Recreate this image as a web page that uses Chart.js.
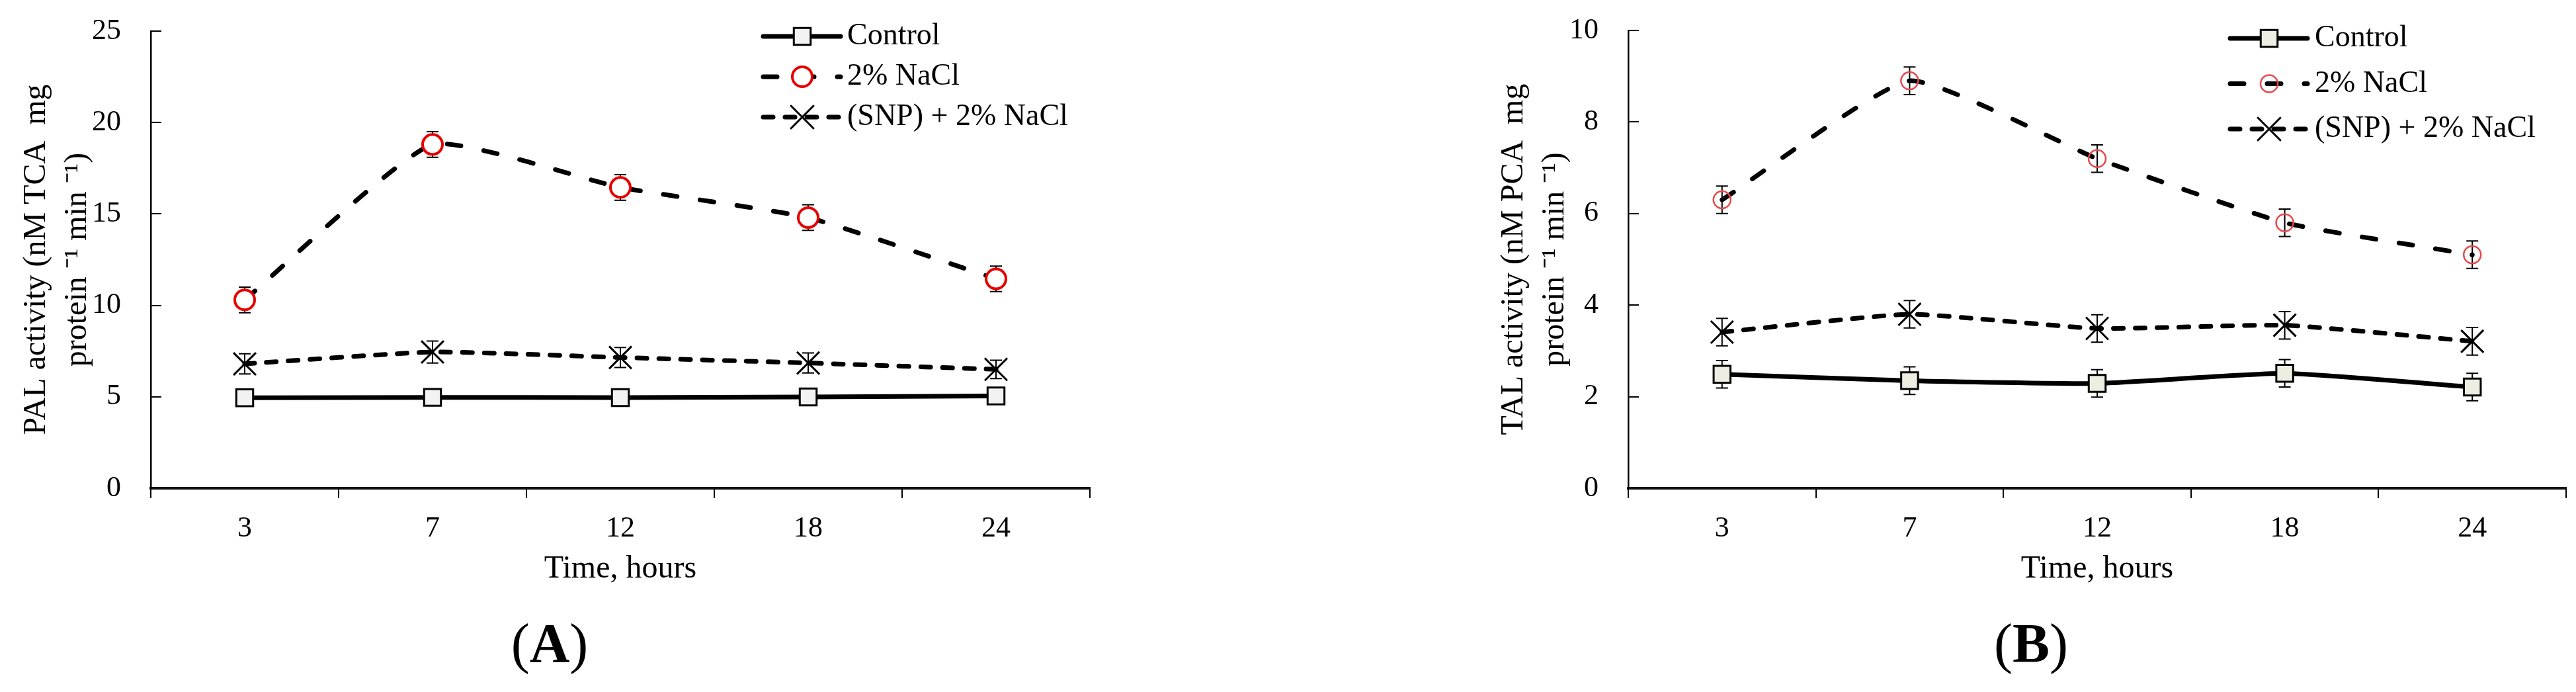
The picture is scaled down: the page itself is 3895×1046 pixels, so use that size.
<!DOCTYPE html>
<html>
<head>
<meta charset="utf-8">
<script src="https://cdn.jsdelivr.net/npm/chart.js@4.4.1/dist/chart.umd.min.js"></script>
<style>
body{margin:0;background:#fff;width:3895px;height:1046px;position:relative;overflow:hidden;font-family:"Liberation Serif",serif;}
canvas{position:absolute;top:0;}
#palChart{left:0;}
#talChart{left:2234px;}
.panel{position:absolute;top:931px;width:240px;text-align:center;font-size:84px;line-height:84px;color:#000;}
</style>
</head>
<body>
<canvas id="palChart" width="1700" height="940"></canvas>
<canvas id="talChart" width="1661" height="940"></canvas>
<div class="panel" style="left:711px">(<b>A</b>)</div>
<div class="panel" style="left:2951px">(<b>B</b>)</div>
<script>
//categories
var hours = ["3", "7", "12", "18", "24"];
var seriesNames = ["Control", "2% NaCl", "(SNP) + 2% NaCl"];

//panel A - PAL activity
var palControl = [4.95, 4.97, 4.96, 4.99, 5.05];
var palControlErr = [0.15, 0.15, 0.15, 0.15, 0.15];
var palNaCl = [10.3, 18.8, 16.45, 14.8, 11.45];
var palNaClErr = [0.7, 0.7, 0.7, 0.7, 0.7];
var palSnp = [6.8, 7.45, 7.15, 6.85, 6.5];
var palSnpErr = [0.55, 0.6, 0.55, 0.55, 0.5];

//panel B - TAL activity
var talControl = [2.49, 2.35, 2.29, 2.51, 2.21];
var talControlErr = [0.3, 0.3, 0.3, 0.3, 0.3];
var talNaCl = [6.3, 8.9, 7.2, 5.8, 5.1];
var talNaClErr = [0.3, 0.3, 0.3, 0.3, 0.3];
var talSnp = [3.41, 3.8, 3.49, 3.56, 3.21];
var talSnpErr = [0.3, 0.3, 0.3, 0.3, 0.3];

var fontName = "'Liberation Serif', 'Times New Roman', serif";

//error bars go under the lines and markers
var errorBars = {
    id: "errorBars",
    beforeDatasetsDraw: function(chart){
        var ctx = chart.ctx;
        var yScale = chart.scales.y;
        chart.data.datasets.forEach(function(ds, i){
            var meta = chart.getDatasetMeta(i);
            ctx.save();
            ctx.strokeStyle = "#000";
            ctx.lineWidth = 2;
            meta.data.forEach(function(pt, j){
                var top = yScale.getPixelForValue(ds.data[j] + ds.errors[j]);
                var bot = yScale.getPixelForValue(ds.data[j] - ds.errors[j]);
                ctx.beginPath();
                ctx.moveTo(pt.x, top); ctx.lineTo(pt.x, bot);
                ctx.moveTo(pt.x - 9, top); ctx.lineTo(pt.x + 9, top);
                ctx.moveTo(pt.x - 9, bot); ctx.lineTo(pt.x + 9, bot);
                ctx.stroke();
            });
            ctx.restore();
        });
    }
};

//legend with a line sample and the marker on it
var lineLegend = {
    id: "lineLegend",
    afterDraw: function(chart, args, opts){
        var ctx = chart.ctx;
        chart.data.datasets.forEach(function(ds, i){
            var y = opts.y0 + i * opts.gap;
            ctx.save();
            ctx.strokeStyle = ds.borderColor;
            ctx.lineWidth = ds.borderWidth;
            ctx.lineCap = "round";
            ctx.setLineDash(ds.borderDash || []);
            ctx.beginPath();
            ctx.moveTo(opts.x0, y);
            ctx.lineTo(opts.x1, y);
            ctx.stroke();
            ctx.setLineDash([]);
            ctx.fillStyle = ds.pointBackgroundColor;
            ctx.strokeStyle = ds.pointBorderColor;
            ctx.lineWidth = ds.pointBorderWidth;
            Chart.helpers.drawPoint(ctx, {pointStyle: ds.pointStyle, radius: ds.pointRadius, rotation: 0, borderWidth: ds.pointBorderWidth}, opts.mx, y);
            ctx.fillStyle = "#000";
            ctx.font = "46px " + fontName;
            ctx.textBaseline = "middle";
            ctx.textAlign = "left";
            ctx.fillText(ds.label, opts.tx, y);
            ctx.restore();
        });
    }
};

function buildChart(id, p){
    return new Chart(id, {
        type: "line",
        data: {
            labels: hours,
            datasets: [{
                label: seriesNames[0],
                data: p.control,
                errors: p.controlErr,
                borderColor: "#000",
                borderWidth: 7,
                tension: 0.15,
                pointStyle: "rect",
                pointRadius: 18,
                pointBorderWidth: 3,
                pointBorderColor: "#000",
                pointBackgroundColor: p.squareFill
            }, {
                label: seriesNames[1],
                data: p.nacl,
                errors: p.naclErr,
                borderColor: "#000",
                borderWidth: 7,
                borderDash: [21, 35],
                borderCapStyle: "round",
                tension: 0.15,
                pointStyle: "circle",
                pointRadius: p.circleRadius,
                pointBorderWidth: p.circleWidth,
                pointBorderColor: p.circleColor,
                pointBackgroundColor: p.circleFill
            }, {
                label: seriesNames[2],
                data: p.snp,
                errors: p.snpErr,
                borderColor: "#000",
                borderWidth: 7,
                borderDash: [15, 18],
                borderCapStyle: "round",
                tension: 0.15,
                pointStyle: "crossRot",
                pointRadius: 24,
                pointBorderWidth: 3,
                pointBorderColor: "#000",
                pointBackgroundColor: "#000"
            }]
        },
        options: {
            responsive: false,
            animation: false,
            layout: {autoPadding: false, padding: {left: 0, right: p.padRight, top: p.padTop, bottom: 0}},
            plugins: {
                legend: {display: false},
                tooltip: {enabled: false},
                lineLegend: p.legend
            },
            scales: {
                x: {
                    offset: true,
                    grid: {offset: true, drawOnChartArea: false, tickLength: 15, lineWidth: 2, color: "#000"},
                    border: {display: true, color: "#111", width: 4},
                    ticks: {color: "#000", padding: 20, font: {family: fontName, size: 44}},
                    title: {display: true, text: "Time, hours", color: "#000", padding: {top: 0, bottom: 51}, font: {family: fontName, size: 48}},
                    afterFit: function(scale){
                        scale.height = 940 - 738;
                        scale.paddingLeft = 0;
                        scale.paddingRight = 0;
                    }
                },
                y: {
                    min: 0,
                    max: p.yMax,
                    ticks: {stepSize: p.yStep, color: "#000", padding: 61, font: {family: fontName, size: 44}},
                    grid: {drawOnChartArea: false, tickLength: -16, lineWidth: 2, color: "#000"},
                    border: {display: true, color: "#000", width: 2.5},
                    title: {display: true, text: p.yTitle, color: "#000", padding: {top: 24, bottom: 0}, font: {family: fontName, size: 48, lineHeight: 1.3}},
                    afterFit: function(scale){
                        scale.width = 228;
                        scale.paddingTop = 0;
                        scale.paddingBottom = 0;
                    }
                }
            }
        },
        plugins: [errorBars, lineLegend]
    });
}

buildChart("palChart", {
    control: palControl, controlErr: palControlErr,
    nacl: palNaCl, naclErr: palNaClErr,
    snp: palSnp, snpErr: palSnpErr,
    squareFill: "#f2f2f2",
    circleRadius: 15, circleWidth: 4, circleColor: "#e60000", circleFill: "#fff",
    yMax: 25, yStep: 5, padTop: 47, padRight: 52,
    yTitle: ["PAL activity (nM TCA  mg", "protein \u207b\u00b9 min \u207b\u00b9)"],
    legend: {x0: 1154, x1: 1271, mx: 1213, tx: 1281, y0: 55, gap: 61}
});

buildChart("talChart", {
    control: talControl, controlErr: talControlErr,
    nacl: talNaCl, naclErr: talNaClErr,
    snp: talSnp, snpErr: talSnpErr,
    squareFill: "#eeede2",
    circleRadius: 13, circleWidth: 2.5, circleColor: "#e8484b", circleFill: "rgba(255,255,255,0)",
    yMax: 10, yStep: 2, padTop: 46, padRight: 15,
    yTitle: ["TAL activity (nM PCA  mg", "protein \u207b\u00b9 min \u207b\u00b9)"],
    legend: {x0: 1138, x1: 1255, mx: 1197, tx: 1266, y0: 58, gap: 68.5}
});
</script>
</body>
</html>
